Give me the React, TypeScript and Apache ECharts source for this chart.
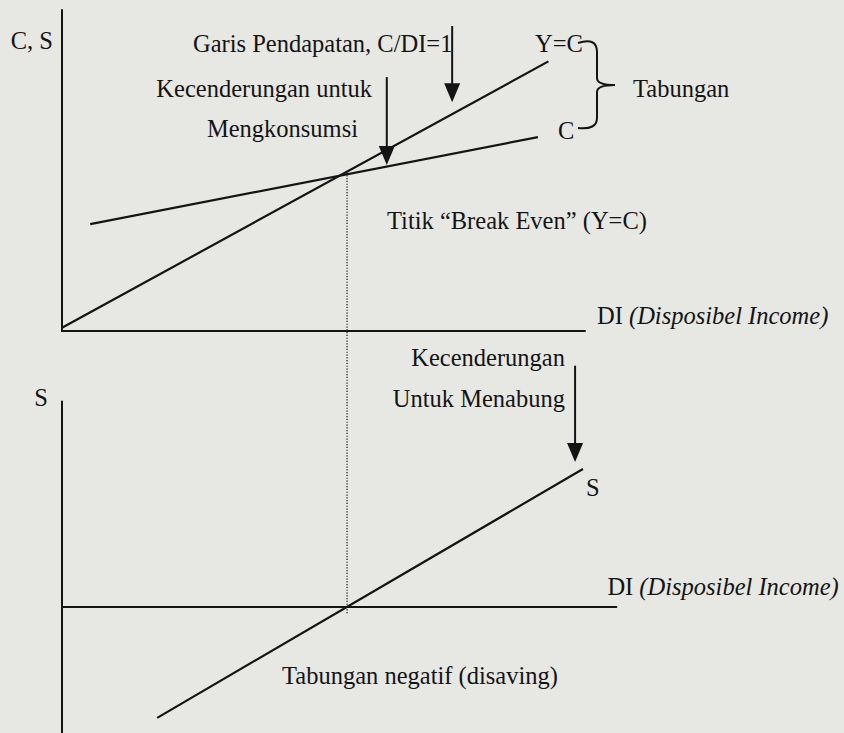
import React, { useEffect, useRef } from "react";
import * as echarts from "echarts";

// ---- Upper panel: consumption function (C, S vs DI) ----
const upperDI: number[] = [0, 100];          // DI axis range
const upperCS: number[] = [0, 100];          // C, S axis range
const incomeLine: number[][] = [[0, 1], [93, 84]];        // Y = C (45° line)
const consumptionLine: number[][] = [[5.4, 33.3], [91, 60.4]]; // C
const breakEven: number[] = [54.5, 49.4];   // Titik "Break Even"

// ---- Lower panel: saving function (S vs DI) ----
const lowerDI: number[] = [0, 106];
const lowerS: number[] = [-40, 65];
const savingLine: number[][] = [[18.2, -35.2], [99.6, 43.6]];  // S

// ---- annotation arrows (data units of their panel): [x, yFrom, yTip] ----
const upperArrows: number[][] = [[74.6, 95.0, 71.3], [62.1, 79.1, 51.7]];
const lowerArrows: number[][] = [[98.1, 76.3, 45.8]];

const FONT = '"Liberation Serif", "Times New Roman", serif';
const INK = "#141414";
const FS = 24.5;

const braceD =
  "M578,43 Q597,37 597,52 L597,78 Q597,85 615,85 Q597,85 597,92 L597,118 Q597,130 578,128";
echarts.graphic.registerShape("brace", echarts.graphic.extendPath(braceD, {}));

const txt = (text: string, x: number, y: number, align = "left", extra: any = {}) => ({
  type: "text",
  silent: true,
  style: {
    text,
    x,
    y,
    align,
    verticalAlign: "middle",
    fill: INK,
    fontSize: FS,
    fontFamily: FONT,
    ...extra,
  },
});

export default function App() {
  const ref = useRef<HTMLDivElement>(null);
  useEffect(() => {
    if (!ref.current) return;
    const chart = echarts.init(ref.current, null, { renderer: "svg" });
    const axisLine = { show: true, onZero: true, lineStyle: { color: INK, width: 2 } };
    const hidden = {
      axisTick: { show: false },
      axisLabel: { show: false },
      splitLine: { show: false },
    };
    const diName = {
      name: "{b|DI} {i|(Disposibel Income)}",
      nameLocation: "end",
      nameTextStyle: {
        align: "left",
        verticalAlign: "middle",
        color: INK,
        fontFamily: FONT,
        fontSize: FS,
        rich: {
          b: { fontFamily: FONT, fontSize: FS, color: INK },
          i: { fontFamily: FONT, fontSize: FS, color: INK, fontStyle: "italic" },
        },
      },
    };
    chart.setOption({
      animation: false,
      backgroundColor: "#e7e7e4",
      grid: [
        { left: 62, top: 10, width: 523, height: 321 },
        { left: 62, top: 401.4, width: 554.4, height: 337 },
      ],
      xAxis: [
        {
          type: "value", gridIndex: 0, min: upperDI[0], max: upperDI[1],
          axisLine, ...hidden, ...diName, nameGap: 12,
          nameTextStyle: { ...diName.nameTextStyle, padding: [0, 0, 32, 0] },
        },
        {
          type: "value", gridIndex: 1, min: lowerDI[0], max: lowerDI[1],
          axisLine, ...hidden, ...diName, nameGap: -9,
          nameTextStyle: { ...diName.nameTextStyle, padding: [0, 0, 40, 0] },
        },
      ],
      yAxis: [
        {
          type: "value", gridIndex: 0, min: upperCS[0], max: upperCS[1],
          axisLine, ...hidden,
          name: "C, S", nameLocation: "end", nameGap: -30,
          nameTextStyle: { align: "right", verticalAlign: "middle", padding: [0, 9, 0, 0], color: INK, fontFamily: FONT, fontSize: FS },
        },
        {
          type: "value", gridIndex: 1, min: lowerS[0], max: lowerS[1],
          axisLine, ...hidden,
          name: "S", nameLocation: "end", nameGap: 4,
          nameTextStyle: { align: "right", verticalAlign: "middle", padding: [0, 14, 0, 0], color: INK, fontFamily: FONT, fontSize: FS },
        },
      ],
      series: [
        {
          name: "Y=C", type: "line", xAxisIndex: 0, yAxisIndex: 0, data: incomeLine,
          symbol: "none", silent: true, lineStyle: { color: INK, width: 2.2 },
        },
        {
          name: "C", type: "line", xAxisIndex: 0, yAxisIndex: 0, data: consumptionLine,
          symbol: "none", silent: true, lineStyle: { color: INK, width: 2.2 },
        },
        {
          name: "S", type: "line", xAxisIndex: 1, yAxisIndex: 1, data: savingLine,
          symbol: "none", silent: true, lineStyle: { color: INK, width: 2.2 },
        },
      ],
    });

    // annotations positioned through the axes' scales
    const g: any[] = [];
    const top = chart.convertToPixel({ gridIndex: 0 }, breakEven) as number[];
    const bot = chart.convertToPixel({ gridIndex: 1 }, [breakEven[0], 0]) as number[];
    g.push({
      type: "line", silent: true,
      shape: { x1: top[0], y1: top[1], x2: bot[0], y2: bot[1] + 7 },
      style: { stroke: "#222", lineWidth: 1.3, lineDash: [1.2, 1.6] },
    });
    const arrow = (gridIndex: number, a: number[]) => {
      const p0 = chart.convertToPixel({ gridIndex }, [a[0], a[1]]) as number[];
      const p1 = chart.convertToPixel({ gridIndex }, [a[0], a[2]]) as number[];
      g.push({
        type: "line", silent: true,
        shape: { x1: p0[0], y1: p0[1], x2: p1[0], y2: p1[1] - 10 },
        style: { stroke: INK, lineWidth: 2 },
      });
      g.push({
        type: "polygon", silent: true,
        shape: { points: [[p1[0] - 8, p1[1] - 19], [p1[0] + 8, p1[1] - 19], [p1[0], p1[1]]] },
        style: { fill: INK },
      });
    };
    upperArrows.forEach((a) => arrow(0, a));
    lowerArrows.forEach((a) => arrow(1, a));

    g.push({ type: "brace", x: 0, y: 0, silent: true, style: { fill: "none", stroke: INK, lineWidth: 2 } });

    g.push(txt("Garis Pendapatan, C/DI=1", 193, 43));
    g.push(txt("Kecenderungan untuk", 372, 88, "right"));
    g.push(txt("Mengkonsumsi", 358, 128, "right"));
    g.push(txt("Y=C", 535, 43));
    g.push(txt("C", 558, 130));
    g.push(txt("Tabungan", 633, 88));
    g.push(txt("Titik \u201CBreak Even\u201D (Y=C)", 387, 220));
    g.push(txt("Kecenderungan", 565, 357, "right"));
    g.push(txt("Untuk Menabung", 565, 398, "right"));
    g.push(txt("S", 586, 487));
    g.push(txt("Tabungan negatif (disaving)", 282, 675));

    chart.setOption({ graphic: g });
    return () => chart.dispose();
  }, []);
  return (
    <div
      ref={ref}
      style={{ position: "fixed", left: 0, top: 0, width: 844, height: 733 }}
    />
  );
}
